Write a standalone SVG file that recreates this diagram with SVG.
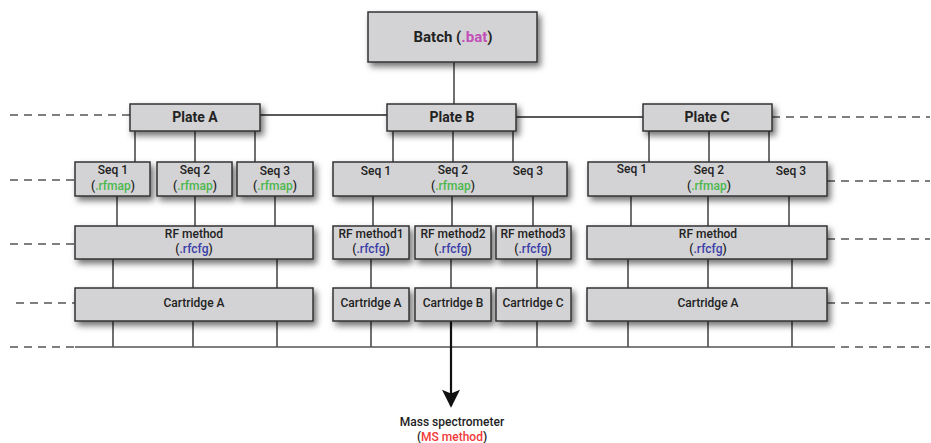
<svg xmlns="http://www.w3.org/2000/svg" width="931" height="443" viewBox="0 0 931 443">
<style>
  .box{fill:#d3d3d5;stroke:#333;stroke-width:1.5;filter:url(#sh)}
  .t{font-family:Roboto,"Liberation Sans",sans-serif;fill:#222;text-anchor:middle;font-weight:500}
  .big{font-size:15px;font-weight:700}
  .pl{font-size:14px;font-weight:700}
  .sm{font-size:12px}
  .ln{stroke:#222;stroke-width:1.3;fill:none}
  .dash{stroke:#555;stroke-width:1.3;stroke-dasharray:8 6;fill:none}
  .bat{fill:#c24fb8}
  .map{fill:#4cb84c}
  .cfg{fill:#3b3fa8}
  .ms{fill:#f03a3a}
</style>
<defs>
  <filter id="sh" x="-10%" y="-20%" width="130%" height="160%">
    <feDropShadow dx="3" dy="4" stdDeviation="3" flood-color="#000" flood-opacity="0.55"/>
  </filter>
  <marker id="arr" viewBox="0 0 10 10" refX="9" refY="5" markerWidth="22" markerHeight="18" markerUnits="userSpaceOnUse" orient="auto">
    <path d="M0,0 L10,5 L0,10 L2,5 Z" fill="#111"/>
  </marker>
</defs>

<g id="connectors">
  <line class="ln" x1="454" y1="62" x2="454" y2="104"/>
  <line class="ln" x1="260" y1="115" x2="387" y2="115"/>
  <line class="ln" x1="516" y1="117" x2="643" y2="117"/>
  <line class="ln" x1="135" y1="131" x2="135" y2="162"/>
  <line class="ln" x1="195" y1="131" x2="195" y2="162"/>
  <line class="ln" x1="255" y1="131" x2="255" y2="162"/>
  <line class="ln" x1="393" y1="131" x2="393" y2="162"/>
  <line class="ln" x1="453" y1="131" x2="453" y2="162"/>
  <line class="ln" x1="513" y1="131" x2="513" y2="162"/>
  <line class="ln" x1="649" y1="131" x2="649" y2="162"/>
  <line class="ln" x1="709" y1="131" x2="709" y2="162"/>
  <line class="ln" x1="769" y1="131" x2="769" y2="162"/>
  <line class="ln" x1="117" y1="196" x2="117" y2="226"/>
  <line class="ln" x1="195" y1="196" x2="195" y2="226"/>
  <line class="ln" x1="275" y1="196" x2="275" y2="226"/>
  <line class="ln" x1="373" y1="196" x2="373" y2="226"/>
  <line class="ln" x1="452" y1="196" x2="452" y2="226"/>
  <line class="ln" x1="533" y1="196" x2="533" y2="226"/>
  <line class="ln" x1="631" y1="196" x2="631" y2="226"/>
  <line class="ln" x1="708" y1="196" x2="708" y2="226"/>
  <line class="ln" x1="789" y1="196" x2="789" y2="226"/>
  <line class="ln" x1="113" y1="259" x2="113" y2="288"/>
  <line class="ln" x1="193" y1="259" x2="193" y2="288"/>
  <line class="ln" x1="277" y1="259" x2="277" y2="288"/>
  <line class="ln" x1="371" y1="259" x2="371" y2="288"/>
  <line class="ln" x1="451" y1="259" x2="451" y2="288"/>
  <line class="ln" x1="537" y1="259" x2="537" y2="288"/>
  <line class="ln" x1="628" y1="259" x2="628" y2="288"/>
  <line class="ln" x1="708" y1="259" x2="708" y2="288"/>
  <line class="ln" x1="792" y1="259" x2="792" y2="288"/>
  <line class="ln" x1="113" y1="321" x2="113" y2="347"/>
  <line class="ln" x1="193" y1="321" x2="193" y2="347"/>
  <line class="ln" x1="277" y1="321" x2="277" y2="347"/>
  <line class="ln" x1="371" y1="321" x2="371" y2="347"/>
  <line class="ln" x1="537" y1="321" x2="537" y2="347"/>
  <line class="ln" x1="628" y1="321" x2="628" y2="347"/>
  <line class="ln" x1="708" y1="321" x2="708" y2="347"/>
  <line class="ln" x1="792" y1="321" x2="792" y2="347"/>
  <line class="ln" x1="75" y1="347" x2="827" y2="347" style="stroke:#555"/>
  <line x1="451" y1="321" x2="451" y2="406" stroke="#111" stroke-width="2.2" marker-end="url(#arr)"/>
  <line class="dash" x1="10" y1="115" x2="130" y2="115"/>
  <line class="dash" x1="772" y1="117" x2="930" y2="117"/>
  <line class="dash" x1="10" y1="180" x2="75" y2="180"/>
  <line class="dash" x1="827" y1="181" x2="930" y2="181"/>
  <line class="dash" x1="10" y1="244" x2="75" y2="244"/>
  <line class="dash" x1="827" y1="239" x2="930" y2="239"/>
  <line class="dash" x1="16" y1="303" x2="75" y2="303"/>
  <line class="dash" x1="827" y1="303" x2="930" y2="303"/>
  <line class="dash" x1="10" y1="347" x2="75" y2="347"/>
  <line class="dash" x1="827" y1="347" x2="930" y2="347"/>
</g>

<g id="batch">
  <rect class="box" x="368" y="12" width="169" height="50"/>
  <text class="t big" x="453" y="42">Batch (<tspan class="bat">.bat</tspan>)</text>
</g>

<g id="plateA">
  <rect class="box" x="130" y="104" width="130" height="27"/>
  <text class="t pl" x="195" y="122">Plate A</text>
</g>
<g id="plateB">
  <rect class="box" x="387" y="104" width="129" height="27"/>
  <text class="t pl" x="452" y="122">Plate B</text>
</g>
<g id="plateC">
  <rect class="box" x="643" y="104" width="129" height="27"/>
  <text class="t pl" x="707" y="122">Plate C</text>
</g>

<g id="seqA1">
  <rect class="box" x="75" y="162" width="75" height="34"/>
  <text class="t sm" x="113" y="174">Seq 1</text>
  <text class="t sm" x="113" y="190">(<tspan class="map">.rfmap</tspan>)</text>
</g>
<g id="seqA2">
  <rect class="box" x="157" y="162" width="75" height="34"/>
  <text class="t sm" x="195" y="174">Seq 2</text>
  <text class="t sm" x="195" y="190">(<tspan class="map">.rfmap</tspan>)</text>
</g>
<g id="seqA3">
  <rect class="box" x="237" y="162" width="76" height="34"/>
  <text class="t sm" x="275" y="175">Seq 3</text>
  <text class="t sm" x="275" y="190">(<tspan class="map">.rfmap</tspan>)</text>
</g>

<g id="seqB">
  <rect class="box" x="333" y="162" width="234" height="34"/>
  <text class="t sm" x="376" y="175">Seq 1</text>
  <text class="t sm" x="453" y="174">Seq 2</text>
  <text class="t sm" x="528" y="175">Seq 3</text>
  <text class="t sm" x="453" y="190">(<tspan class="map">.rfmap</tspan>)</text>
</g>

<g id="seqC">
  <rect class="box" x="588" y="162" width="239" height="34"/>
  <text class="t sm" x="632" y="173">Seq 1</text>
  <text class="t sm" x="709" y="174">Seq 2</text>
  <text class="t sm" x="791" y="175">Seq 3</text>
  <text class="t sm" x="709" y="190">(<tspan class="map">.rfmap</tspan>)</text>
</g>

<g id="rfA">
  <rect class="box" x="75" y="226" width="238" height="33"/>
  <text class="t sm" x="194" y="238">RF method</text>
  <text class="t sm" x="194" y="253">(<tspan class="cfg">.rfcfg</tspan>)</text>
</g>
<g id="rfB1">
  <rect class="box" x="333" y="226" width="76" height="33"/>
  <text class="t sm" x="371" y="238">RF method1</text>
  <text class="t sm" x="371" y="253">(<tspan class="cfg">.rfcfg</tspan>)</text>
</g>
<g id="rfB2">
  <rect class="box" x="415" y="226" width="76" height="33"/>
  <text class="t sm" x="453" y="238">RF method2</text>
  <text class="t sm" x="453" y="253">(<tspan class="cfg">.rfcfg</tspan>)</text>
</g>
<g id="rfB3">
  <rect class="box" x="496" y="226" width="75" height="33"/>
  <text class="t sm" x="533" y="238">RF method3</text>
  <text class="t sm" x="533" y="253">(<tspan class="cfg">.rfcfg</tspan>)</text>
</g>
<g id="rfC">
  <rect class="box" x="587" y="226" width="240" height="33"/>
  <text class="t sm" x="708" y="238">RF method</text>
  <text class="t sm" x="708" y="253">(<tspan class="cfg">.rfcfg</tspan>)</text>
</g>

<g id="cartA_left">
  <rect class="box" x="75" y="288" width="238" height="33"/>
  <text class="t sm" x="194" y="307">Cartridge A</text>
</g>
<g id="cartA_mid">
  <rect class="box" x="333" y="288" width="76" height="33"/>
  <text class="t sm" x="371" y="307">Cartridge A</text>
</g>
<g id="cartB_mid">
  <rect class="box" x="415" y="288" width="76" height="33"/>
  <text class="t sm" x="453" y="307">Cartridge B</text>
</g>
<g id="cartC_mid">
  <rect class="box" x="496" y="288" width="75" height="33"/>
  <text class="t sm" x="533" y="307">Cartridge C</text>
</g>
<g id="cartA_right">
  <rect class="box" x="587" y="288" width="240" height="33"/>
  <text class="t sm" x="708" y="307">Cartridge A</text>
</g>

<g id="ms">
  <text class="t sm" x="452" y="426">Mass spectrometer</text>
  <text class="t sm" x="452" y="441">(<tspan class="ms">MS method</tspan>)</text>
</g>
</svg>
